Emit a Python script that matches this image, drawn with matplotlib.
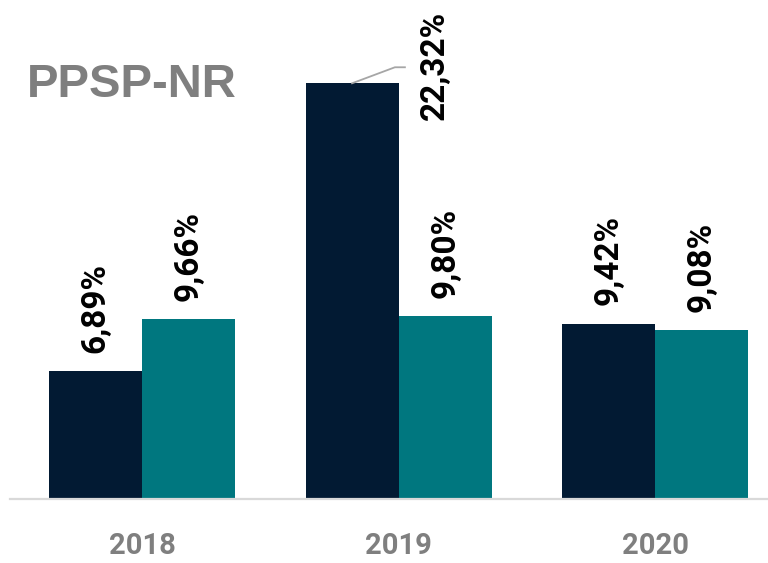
import numpy as np
import matplotlib.pyplot as plt

# datos
years = ["2018", "2019", "2020"]
serie_a = [6.89, 22.32, 9.42]
serie_b = [9.66, 9.80, 9.08]

col_a = "#021a33"
col_b = "#00777f"
gris = "#7f7f7f"

fig = plt.figure(figsize=(7.68, 5.63), dpi=100)
ax = fig.add_axes([10 / 768, 64 / 563, 758 / 768, 447 / 563])

x = np.arange(len(years))
w = 0.363
ax.bar(x - w / 2, serie_a, w, color=col_a)
ax.bar(x + w / 2, serie_b, w, color=col_b)

ax.set_xlim(-0.515, 2.44)
ax.set_ylim(0, 24)

for s in ["top", "left", "right"]:
    ax.spines[s].set_visible(False)
ax.spines["bottom"].set_color("#d9d9d9")
ax.spines["bottom"].set_linewidth(1.6)
ax.set_yticks([])
ax.set_xticks(x)
ax.set_xticklabels(years, fontsize=21, fontweight="bold", color=gris, family="Roboto")
ax.tick_params(axis="x", length=0, pad=24)

lab_font = dict(fontsize=24, fontweight="bold", color="black", rotation=90, family="Roboto")

def fmt(v):
    return f"{v:.2f}%".replace(".", ",")

for i in range(len(years)):
    for xpos, v in [(x[i] - w / 2, serie_a[i]), (x[i] + w / 2, serie_b[i])]:
        if v > 20:
            # etiqueta desplazada con linea guia
            ax.plot([xpos, xpos + 0.167, xpos + 0.206], [v, v + 0.86, v + 0.86],
                    color="#a6a6a6", lw=1.3, clip_on=False)
            ax.text(xpos + 0.323, v - 1.99, fmt(v), ha="center", va="bottom", **lab_font)
        else:
            ax.annotate(fmt(v), (xpos, v), xytext=(0, 13), textcoords="offset points",
                        ha="center", va="bottom", **lab_font)

fig.text(27 / 768, 1 - 97 / 563, "PPSP-NR", fontsize=34, fontweight="bold", color=gris,
         family="Liberation Sans", ha="left", va="baseline")

fig.savefig("out.png", dpi=100)
